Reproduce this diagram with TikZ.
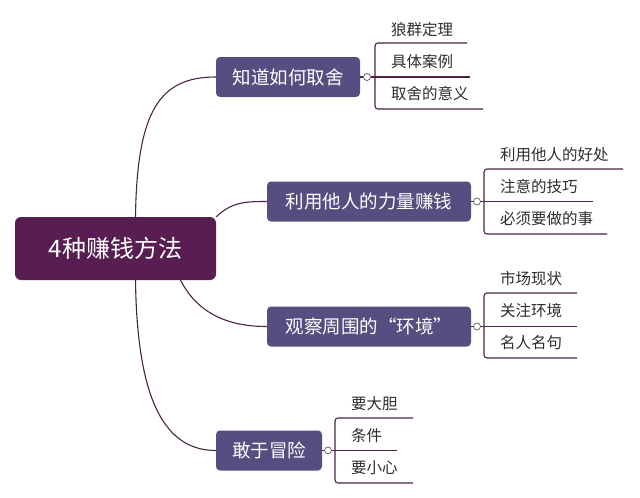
\documentclass[tikz,border=0pt]{standalone}
\usepackage{fontspec}
\newfontfamily\cjk{Noto Sans CJK SC}
\definecolor{plum}{RGB}{88,30,82}
\definecolor{slate}{RGB}{86,78,128}
\definecolor{wire}{RGB}{75,35,70}
\definecolor{leaftext}{RGB}{45,45,45}
\begin{document}
\begin{tikzpicture}[x=1pt,y=-1pt,font=\cjk,
		root/.style={fill=plum,text=white,rounded corners=6pt,minimum width=201pt,minimum height=63pt,font=\cjk\fontsize{24}{28}\selectfont},
		topic/.style={fill=slate,text=white,rounded corners=4pt,minimum height=40pt,font=\cjk\fontsize{18.5}{22}\selectfont},
		leaf/.style={text=leaftext,anchor=west,inner sep=1pt,font=\cjk\fontsize{15.5}{18}\selectfont},
		knob/.style={circle,draw=gray!70!black,fill=white,line width=0.7pt,inner sep=0pt,minimum size=7pt},
		wire/.style={draw=wire,line width=1.1pt}]
			\path[use as bounding box](0,0)rectangle(640,498);
			% centre and main topics
			\node[root](root)at(115.5,248.5){4种赚钱方法};
			\node[topic,minimum width=144pt](b1)at(288,77){知道如何取舍};
			\node[topic,minimum width=204pt](b2)at(369,201.5){利用他人的力量赚钱};
			\node[topic,minimum width=204pt](b3)at(369,326.5){观察周围的“环境”};
			\node[topic,minimum width=106pt](b4)at(269,450.5){敢于冒险};
			\draw[wire]([xshift=20pt]root.north) .. controls (137,110) and (160,77) .. (b1.west);
			\draw[wire](root.north east) .. controls (232,202) and (245,201.5) .. (b2.west);
			\draw[wire]([xshift=65pt]root.south) .. controls (200,318) and (235,326.5) .. (b3.west);
			\draw[wire]([xshift=20pt]root.south) .. controls (137,390) and (160,450.5) .. (b4.west);
			% first topic
			\node[knob](k1)at(367,77){};
			\draw[wire](b1.east)--(k1);
			\draw[wire,rounded corners=3pt](467,43)--(375,43)--(375,109)--(483,109);
			\draw[wire](k1.east)--(470,77);
			\node[leaf](a1)at(390,30){狼群定理};
			\node[leaf](a2)at(390,62){具体案例};
			\node[leaf](a3)at(390,94){取舍的意义};
			% second topic
			\node[knob](k2)at(477,201.5){};
			\draw[wire](b2.east)--(k2);
			\draw[wire,rounded corners=3pt](623,169)--(484,169)--(484,234)--(607,234);
			\draw[wire](k2.east)--(593,201.5);
			\node[leaf](c1)at(499,155){利用他人的好处};
			\node[leaf](c2)at(499,187){注意的技巧};
			\node[leaf](c3)at(499,219){必须要做的事};
			% third topic
			\node[knob](k3)at(477,326.5){};
			\draw[wire](b3.east)--(k3);
			\draw[wire,rounded corners=3pt](577,293)--(484,293)--(484,358)--(577,358);
			\draw[wire](k3.east)--(577,326.5);
			\node[leaf](d1)at(499,279){市场现状};
			\node[leaf](d2)at(499,311){关注环境};
			\node[leaf](d3)at(499,343){名人名句};
			% fourth topic
			\node[knob](k4)at(328,450.5){};
			\draw[wire](b4.east)--(k4);
			\draw[wire,rounded corners=3pt](413,418)--(335,418)--(335,483)--(413,483);
			\draw[wire](k4.east)--(397,450.5);
			\node[leaf](e1)at(350,404){要大胆};
			\node[leaf](e2)at(350,436){条件};
			\node[leaf](e3)at(350,468){要小心};
		\end{tikzpicture}
\end{document}
